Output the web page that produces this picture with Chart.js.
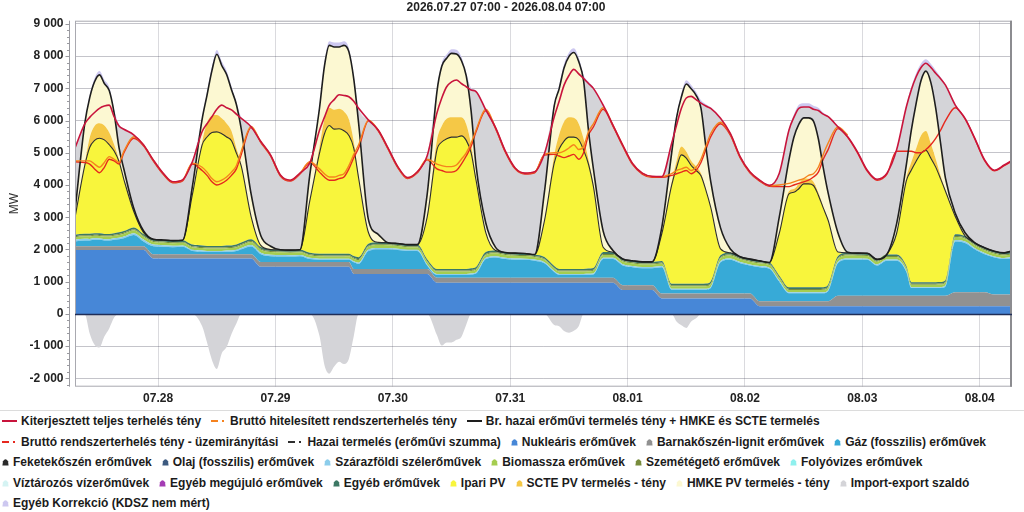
<!DOCTYPE html>
<html>
<head>
<meta charset="utf-8">
<script src="https://cdn.jsdelivr.net/npm/chart.js@4.4.1/dist/chart.umd.min.js"></script>
<style>
html, body { margin: 0; padding: 0; background: #fff; }
#wrap { position: relative; width: 1024px; height: 512px; overflow: hidden; }
#chartBox { position: absolute; left: 0; top: 0; width: 1024px; height: 410px; }
#legend { position: absolute; left: 0; top: 410px; width: 1024px; box-sizing: border-box;
  border-top: 1px solid #dcdcdc; padding-left: 2px;
  font: bold 12px "Liberation Sans", Arial, sans-serif; color: #1b1b1b; }
.row { display: flex; height: 20.5px; align-items: center; white-space: nowrap; }
.item { display: inline-flex; align-items: center; margin-right: 10px; }
.item svg { margin-right: 4px; flex: none; }
</style>
</head>
<body>
<div id="wrap">
  <div id="chartBox"><canvas id="myChart" width="1024" height="410"></canvas></div>
  <div id="legend"></div>
</div>
<script>
var family = '"Liberation Sans", Arial, sans-serif';

// time axis: hours from 2026.07.27 07:00, denser around midday
var dayOffsets = [0, 2, 3, 4, 5, 6, 7, 8, 9, 10, 12, 14, 16, 18, 20, 22];
var hours = [];
for (var d = 0; d < 8; d++) {
    dayOffsets.forEach(function (o) { hours.push(d * 24 + o); });
}
hours.push(192);

var dayTicks = [17, 41, 65, 89, 113, 137, 161, 185];
var dayLabels = ["07.28", "07.29", "07.30", "07.31", "08.01", "08.02", "08.03", "08.04"];
var yTicks = [-2000, -1000, 0, 1000, 2000, 3000, 4000, 5000, 6000, 7000, 8000, 9000];

// MW values, one row per day: 07 09 10 11 12 13 14 15 16 17 19 21 23 01 03 05
var nuclear = [
    1980,1980,1980,1980,1980,1980,1980,1980,1980,1980,1980,1980,1720,1720,1720,1720,
    1720,1720,1720,1720,1720,1720,1720,1720,1720,1720,1720,1460,1460,1460,1460,1460,
    1460,1460,1460,1460,1460,1460,1460,1460,1240,1240,1240,1240,1240,1240,1240,1240,
    1240,970,970,970,970,970,970,970,970,970,970,970,970,970,970,970,
    970,970,970,970,970,970,970,970,970,970,970,970,740,740,740,740,
    480,480,480,480,480,480,480,480,480,480,480,480,480,480,240,240,
    240,240,240,240,240,240,240,240,240,240,240,240,240,240,240,240,
    240,240,240,240,240,240,240,240,240,240,240,240,240,240,240,240,
    240];

var lignite = [
    120,120,120,120,120,120,120,120,120,120,120,120,130,130,130,130,
    130,130,130,130,130,130,130,130,130,130,130,150,150,150,150,150,
    150,150,150,150,150,150,150,150,150,150,150,150,150,150,150,150,
    150,150,150,150,150,150,150,150,150,150,150,150,150,150,150,150,
    150,150,150,150,150,150,150,150,150,150,150,150,150,150,150,150,
    150,150,150,150,150,150,150,150,150,150,150,150,150,150,150,150,
    150,150,150,150,150,150,150,150,150,150,320,320,320,320,320,320,
    320,320,320,320,320,320,320,320,320,320,430,430,430,430,360,360,
    360];

var gas = [
    150,180,180,200,200,180,180,200,220,250,350,150,250,230,220,230,
    100,80,70,70,70,70,80,80,100,150,240,240,180,170,170,180,
    90,70,70,70,70,70,70,70,210,160,560,610,610,590,560,560,
    110,90,90,90,90,90,90,90,100,130,580,630,580,560,560,530,
    450,180,90,90,90,90,90,90,90,100,580,580,610,560,530,530,
    820,120,120,120,120,120,120,120,120,170,970,1050,940,870,1060,1010,
    610,250,250,250,250,250,250,250,250,310,1010,1120,1120,1120,940,1090,
    1090,740,240,240,240,240,240,240,240,290,1580,1530,1330,1180,1150,1100,
    1150];

var hardCoal = [];
var oil = [];
var runRiver = [];
var reservoir = [];
var otherRenew = [];

var wind = [
    50,50,45,45,40,40,40,45,45,50,55,55,50,50,45,45,
    40,40,35,35,35,35,35,40,40,45,50,50,45,45,40,40,
    40,35,30,30,30,30,30,35,35,40,45,45,45,40,40,40,
    35,30,30,30,30,30,30,30,35,35,40,40,40,40,35,35,
    35,30,30,30,30,30,30,30,35,35,40,40,40,35,35,35,
    35,30,30,30,30,30,30,30,30,35,40,40,40,35,35,35,
    35,30,30,30,30,30,30,30,30,35,40,40,40,35,35,35,
    35,30,30,30,30,30,30,30,30,35,45,45,40,40,35,35,
    35];

var bio = [
    80,80,80,80,80,80,80,80,85,85,90,90,85,85,80,80,
    80,75,75,75,75,75,75,75,80,85,90,90,85,85,80,80,
    80,75,75,75,75,75,75,75,80,85,90,90,85,85,80,80,
    80,75,75,75,75,75,75,75,80,85,90,90,85,85,80,80,
    80,75,75,75,75,75,75,75,80,85,90,90,85,85,80,80,
    80,75,75,75,75,75,75,75,80,85,90,90,85,85,80,80,
    80,75,75,75,75,75,75,75,80,85,90,90,85,85,80,80,
    80,75,75,75,75,75,75,75,80,85,90,90,85,85,80,80,
    80];

var waste = [
    30,30,30,30,30,30,30,30,30,30,30,30,30,30,30,30,
    30,30,30,30,30,30,30,30,30,30,30,30,30,30,30,30,
    30,30,30,30,30,30,30,30,30,30,30,30,30,30,30,30,
    30,30,30,30,30,30,30,30,30,30,30,30,30,30,30,30,
    30,30,30,30,30,30,30,30,30,30,30,30,30,30,30,30,
    30,30,30,30,30,30,30,30,30,30,30,30,30,30,30,30,
    30,30,30,30,30,30,30,30,30,30,30,30,30,30,30,30,
    30,30,30,30,30,30,30,30,30,30,30,30,30,30,30,30,
    30];

var otherPlants = [
    50,50,50,50,50,50,50,50,50,55,60,55,50,50,50,50,
    50,50,50,50,50,50,50,50,50,55,60,55,50,50,50,50,
    50,50,50,50,50,50,50,50,50,55,60,55,50,50,50,50,
    50,50,50,50,50,50,50,50,50,55,60,55,50,50,50,50,
    50,50,50,50,50,50,50,50,50,55,60,55,50,50,50,50,
    50,50,50,50,50,50,50,50,50,55,60,55,50,50,50,50,
    50,50,50,50,50,50,50,50,50,55,60,55,50,50,50,50,
    50,50,50,50,50,50,50,50,50,55,60,55,50,50,50,50,
    50];

var ipariPV = [
    530,2120,2680,2880,2950,2920,2770,2550,2200,1600,500,50,0,0,0,0,
    1550,3120,3380,3520,3540,3480,3370,3250,2840,2370,710,50,0,0,0,0,
    1600,3120,3720,3980,3870,3880,3820,3670,3350,2450,350,0,0,0,0,0,
    1300,3690,3940,4040,4090,4090,4130,3990,3580,2700,600,0,0,0,0,0,
    1130,3200,3720,3970,4090,4090,4010,3690,3240,2530,150,0,0,0,0,0,
    850,3050,3600,4000,3900,3670,3520,3350,2900,2300,200,0,0,0,0,0,
    1300,2900,2950,3060,3210,3210,3160,2860,2460,2000,130,0,0,0,0,0,
    650,2650,3470,3750,4000,4090,3850,3570,3200,2750,550,0,0,0,0,0,
    30];

var sctePV = [
    0,50,300,450,470,450,380,200,50,0,0,0,0,0,0,0,
    0,100,450,520,520,480,420,300,150,50,0,0,0,0,0,0,
    0,200,450,550,600,620,600,500,200,50,0,0,0,0,0,0,
    0,300,500,620,620,620,580,500,250,50,0,0,0,0,0,0,
    0,250,450,600,620,600,500,350,150,50,0,0,0,0,0,0,
    0,100,200,260,200,150,120,80,30,0,0,0,0,0,0,0,
    0,80,100,150,170,160,120,80,40,0,0,0,0,0,0,0,
    0,100,250,400,550,600,450,250,100,30,0,0,0,0,0,0,
    0];

var hmkePV = [
    200,1250,1240,1370,1500,1300,1300,980,380,320,100,50,0,0,0,0,
    250,700,850,1400,1890,1640,1520,1280,1360,1100,700,300,100,0,0,0,
    800,1200,1650,1940,1950,1920,2050,2100,1950,1650,400,250,0,0,0,0,
    700,1500,1850,1880,1980,1960,1760,1500,1050,400,300,100,0,0,0,0,
    900,1530,1420,1670,1880,2030,1930,1800,900,500,500,50,0,0,0,0,
    200,900,1350,1540,2100,2230,2210,2020,1320,800,650,120,0,0,0,0,
    500,980,1610,1850,1880,1890,1880,1670,1210,850,600,20,0,0,0,0,
    300,400,980,1400,1710,1860,1900,1580,1000,370,100,100,0,0,0,0,
    0];

var korr = [
    0,50,90,110,120,120,110,90,50,20,10,0,0,0,0,0,
    0,60,100,120,130,130,120,100,60,30,10,0,0,0,0,0,
    0,60,110,130,140,140,130,110,70,30,10,0,0,0,0,0,
    0,60,100,120,130,130,120,100,60,30,10,0,0,0,0,0,
    0,60,100,120,130,130,120,100,60,30,10,0,0,0,0,0,
    0,50,90,110,120,120,110,90,60,30,10,0,0,0,0,0,
    0,50,90,110,120,120,110,90,50,20,10,0,0,0,0,0,
    0,50,90,110,120,120,110,90,50,20,10,0,0,0,0,0,
    0];

var load = [
    5150,5900,6100,6250,6380,6450,6480,6120,5830,5730,5560,5250,4780,4370,4100,4160,
    4720,5660,5900,6120,6350,6480,6400,6330,6200,6070,5810,5350,4930,4310,4150,4370,
    4680,5700,6100,6480,6650,6800,6780,6740,6600,6380,6020,5710,5150,4570,4230,4410,
    4900,6230,6700,7050,7200,7260,7150,7050,6950,6900,6330,5780,5050,4530,4370,4410,
    4980,6120,6600,7100,7400,7590,7450,7310,7150,7000,6480,5860,5240,4670,4370,4270,
    4260,5290,5850,6380,6700,6750,6650,6540,6450,6380,6070,5600,4880,4410,4150,3990,
    4360,5710,6100,6380,6420,6420,6350,6310,6200,6120,5810,5500,5030,4460,4180,4360,
    5090,6430,6950,7360,7650,7780,7650,7470,7300,7100,6480,6070,5450,4780,4460,4620,
    4800];

var bruttoUzem = [
    4720,4700,4650,4500,4380,4550,4800,4750,4650,5000,5450,5220,4750,4340,4070,4130,
    4650,4450,4300,4100,4000,4050,4150,4300,4500,4950,5780,5320,4900,4280,4120,4340,
    4700,4400,4250,4150,4150,4200,4250,4500,4850,5150,5990,5680,5120,4540,4200,4380,
    4780,4500,4450,4400,4400,4450,4650,4900,5200,5650,6300,5750,5020,4500,4340,4380,
    4930,4950,4900,4850,4900,4950,4800,5000,5550,5800,6350,5830,5210,4640,4340,4240,
    4240,4300,4350,4400,4450,4350,4450,4700,5100,5500,5900,5550,4850,4380,4120,3960,
    3950,3950,4000,4050,4100,4150,4250,4400,4800,5100,5750,5480,5000,4430,4150,4330,
    5050,5050,5050,5000,5000,5100,5250,5450,5700,6000,6400,6050,5430,4760,4440,4600,
    4780];

var bruttoHit = [
    4750,4750,4750,4650,4550,4700,4880,4800,4700,5050,5500,5240,4770,4360,4090,4150,
    4680,4550,4400,4200,4100,4150,4250,4400,4600,5050,5820,5340,4920,4300,4140,4360,
    4720,4500,4350,4250,4250,4300,4350,4600,4950,5250,6010,5700,5140,4560,4220,4400,
    4800,4650,4600,4570,4570,4620,4800,5000,5300,5700,6350,5770,5040,4520,4360,4400,
    4950,5000,5000,5050,5150,5250,5100,5200,5650,5900,6400,5850,5230,4660,4360,4260,
    4260,4350,4450,4500,4550,4450,4550,4800,5200,5600,5950,5580,4870,4400,4140,3980,
    4000,4050,4100,4150,4200,4300,4350,4550,4950,5300,5800,5550,null,null,null,null,
    null,null,null,null,null,null,null,null,null,null,null,null,null,null,null,null,
    null];

// sums of the stacked generation and the import/export balance
var hazai = hours.map(function (h, i) {
    return nuclear[i] + lignite[i] + gas[i] + wind[i] + bio[i] + waste[i] + otherPlants[i] + ipariPV[i];
});
var brHazai = hours.map(function (h, i) { return hazai[i] + sctePV[i] + hmkePV[i]; });
var importPos = hours.map(function (h, i) { return Math.max(0, load[i] - brHazai[i]); });
var exportNeg = hours.map(function (h, i) { return Math.min(0, load[i] - brHazai[i]); });

var legendRowStarts = [3, 8, 14, 21];

function lineSet(label, data, color, width, dash, stackId) {
    return {
        label: label, data: data, borderColor: color, backgroundColor: color,
        borderWidth: width, fill: false, stack: stackId, pointRadius: 0,
        cubicInterpolationMode: "monotone", legendType: "line", legendDash: dash
    };
}

function areaSet(label, data, color, target) {
    return {
        label: label, data: data, borderColor: color, backgroundColor: color,
        borderWidth: 0, fill: target, stack: "gen", pointRadius: 0,
        cubicInterpolationMode: "monotone", legendType: "area"
    };
}

var datasets = [
    lineSet("Kiterjesztett teljes terhelés tény", load, "#c8143c", 1.6, false, "l0"),
    lineSet("Bruttó hitelesített rendszerterhelés tény", bruttoHit, "#f5821e", 1.4, true, "l1"),
    lineSet("Br. hazai erőművi termelés tény + HMKE és SCTE termelés", brHazai, "#1e1e1e", 1.6, false, "l2"),
    lineSet("Bruttó rendszerterhelés tény - üzemirányítási", bruttoUzem, "#e6281e", 1.4, true, "l3"),
    lineSet("Hazai termelés (erőművi szumma)", hazai, "#2e2e2e", 1.1, true, "l4"),
    areaSet("Nukleáris erőművek", nuclear, "#4787d7", "origin"),
    areaSet("Barnakőszén-lignit erőművek", lignite, "#919191", 5),
    areaSet("Gáz (fosszilis) erőművek", gas, "#37aad7", 6),
    areaSet("Feketekőszén erőművek", hardCoal, "#2a2a2a", false),
    areaSet("Olaj (fosszilis) erőművek", oil, "#3d5a80", false),
    areaSet("Szárazföldi szélerőművek", wind, "#8ccdeb", 7),
    areaSet("Biomassza erőművek", bio, "#a5cd50", 10),
    areaSet("Szemétégető erőművek", waste, "#788c3c", 11),
    areaSet("Folyóvizes erőművek", runRiver, "#8ff0ee", false),
    areaSet("Víztározós vízerőművek", reservoir, "#d5f3f3", false),
    areaSet("Egyéb megújuló erőművek", otherRenew, "#a43cb4", false),
    areaSet("Egyéb erőművek", otherPlants, "#3c7864", 12),
    areaSet("Ipari PV", ipariPV, "#f8f53c", 16),
    areaSet("SCTE PV termelés - tény", sctePV, "#f5c846", 17),
    areaSet("HMKE PV termelés - tény", hmkePV, "#fcf8d2", 18),
    areaSet("Import-export szaldó", importPos, "#d4d4d8", 19),
    areaSet("Egyéb Korrekció (KDSZ nem mért)", korr, "#cdc8f0", 20)
];
var exportSet = areaSet("Import-export szaldó", exportNeg, "#d4d4d8", "origin");
exportSet.stack = "exp";
exportSet.noLegend = true;
datasets.push(exportSet);

function spaced(v) {
    return String(v).replace(/\B(?=(\d{3})+(?!\d))/g, " ");
}

var framePlugin = {
    id: "frame",
    afterDraw: function (chart) {
        var ctx = chart.ctx;
        var a = chart.chartArea;
        var y = chart.scales.y;
        ctx.save();
        ctx.strokeStyle = "#a9a9b0";
        ctx.lineWidth = 1;
        ctx.strokeRect(a.left + 0.5, a.top + 0.5, a.right - a.left - 1, a.bottom - a.top - 1);
        ctx.strokeStyle = "#8c8c90";
        ctx.lineWidth = 2;
        ctx.beginPath();
        ctx.moveTo(a.right - 1, a.top);
        ctx.lineTo(a.right - 1, a.bottom);
        ctx.stroke();

        var z = Math.round(y.getPixelForValue(0)) + 0.5;
        ctx.strokeStyle = "#1f2d57";
        ctx.lineWidth = 1.5;
        ctx.beginPath();
        ctx.moveTo(a.left, z);
        ctx.lineTo(a.right, z);
        ctx.stroke();

        var ax = a.left - 5.5;
        ctx.strokeStyle = "#9a9aa0";
        ctx.lineWidth = 1;
        ctx.beginPath();
        ctx.moveTo(ax, a.top);
        ctx.lineTo(ax, a.bottom);
        for (var v = -2200; v <= 9000; v += 200) {
            var py = Math.round(y.getPixelForValue(v)) + 0.5;
            var len = v % 1000 === 0 ? 4 : 2.5;
            ctx.moveTo(ax - len, py);
            ctx.lineTo(ax, py);
        }
        ctx.stroke();
        ctx.restore();
    }
};

function markerHtml(ds) {
    if (ds.legendType === "line") {
        var dash = ds.legendDash ? ' stroke-dasharray="7 4 2 9"' : "";
        return '<svg width="15" height="8" viewBox="0 0 15 8"><line x1="0" y1="4" x2="15" y2="4" stroke="' +
            ds.borderColor + '" stroke-width="2"' + dash + '/></svg>';
    }
    return '<svg width="7" height="8" viewBox="0 0 7 8"><path d="M0.4 7.6 L1 3.2 Q3.5 -0.6 6 3.2 L6.6 7.6 Z" fill="' +
        ds.backgroundColor + '"/></svg>';
}

function buildLegend(chart) {
    var box = document.getElementById("legend");
    box.innerHTML = "";
    var row = null;
    chart.data.datasets.forEach(function (ds, i) {
        if (ds.noLegend) return;
        if (row === null || legendRowStarts.indexOf(i) >= 0) {
            row = document.createElement("div");
            row.className = "row";
            box.appendChild(row);
        }
        var item = document.createElement("span");
        item.className = "item";
        item.innerHTML = markerHtml(ds);
        item.appendChild(document.createTextNode(ds.label));
        row.appendChild(item);
    });
}

Chart.defaults.font.family = family;
Chart.defaults.color = "#222";

var tickFont = { size: 12, weight: "bold", family: family };

var config = {
    type: "line",
    data: { labels: hours, datasets: datasets },
    plugins: [framePlugin],
    options: {
        responsive: false,
        animation: false,
        events: [],
        layout: { padding: { left: 0, right: 12, top: 0, bottom: 0 } },
        plugins: {
            legend: { display: false },
            tooltip: { enabled: false },
            title: {
                display: true,
                text: "2026.07.27 07:00 - 2026.08.04 07:00",
                font: { size: 12, weight: "bold", family: family },
                color: "#222",
                padding: { top: 0, bottom: 6.3 }
            }
        },
        scales: {
            x: {
                type: "linear",
                min: 0,
                max: 191.6,
                z: 1,
                afterBuildTicks: function (scale) {
                    scale.ticks = dayTicks.map(function (v) { return { value: v }; });
                },
                afterFit: function (scale) { scale.height = 23.3; },
                ticks: {
                    autoSkip: false,
                    maxRotation: 0,
                    padding: 5,
                    font: tickFont,
                    color: "#222",
                    callback: function (value) {
                        var k = dayTicks.indexOf(value);
                        return k >= 0 ? dayLabels[k] : "";
                    }
                },
                grid: { color: "rgba(70,70,90,0.2)", drawTicks: false },
                border: { display: false }
            },
            y: {
                stacked: true,
                min: -2260,
                max: 9100,
                z: 1,
                afterBuildTicks: function (scale) {
                    scale.ticks = yTicks.map(function (v) { return { value: v }; });
                },
                afterFit: function (scale) { scale.width = 75; },
                ticks: {
                    autoSkip: false,
                    padding: 11.5,
                    font: tickFont,
                    color: "#222",
                    callback: function (value) { return spaced(value); }
                },
                grid: {
                    drawTicks: false,
                    color: function (c) {
                        return c.tick && c.tick.value === 0 ? "rgba(0,0,0,0)" : "rgba(70,70,90,0.32)";
                    }
                },
                border: { display: false },
                title: {
                    display: true,
                    text: "MW",
                    font: { size: 12, family: family },
                    color: "#333",
                    padding: { top: 7, bottom: 0 }
                }
            }
        }
    }
};

var ctx = document.getElementById("myChart").getContext("2d");
var myChart = new Chart(ctx, config);
buildLegend(myChart);
</script>
</body>
</html>
